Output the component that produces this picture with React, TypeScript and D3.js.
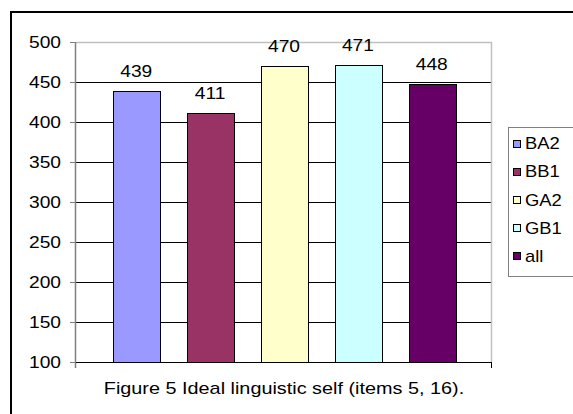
import React from "react";
import * as d3 from "d3";

const categories = ["BA2", "BB1", "GA2", "GB1", "all"];
const values = [439, 411, 470, 471, 448];
const colors = ["#9999FF", "#993366", "#FFFFCC", "#CCFFFF", "#660066"];
const yTicks = [100, 150, 200, 250, 300, 350, 400, 450, 500];
const caption = "Figure 5 Ideal linguistic self (items 5, 16).";

const W = 573;
const H = 414;
const FONT = "'Liberation Sans', Arial, sans-serif";
const FS = 16;

function T({ x, y, anchor, sx = 1.2, children }: { x: number; y: number; anchor: string; sx?: number; children: any }) {
  return (
    <text
      transform={`translate(${x},${y}) scale(${sx},1)`}
      textAnchor={anchor}
      fontFamily={FONT}
      fontSize={FS}
      fill="#000"
    >
      {children}
    </text>
  );
}

export default function App() {
  const plot = { left: 76, right: 492, top: 42, bottom: 362 };
  const y = d3.scaleLinear().domain([100, 500]).range([plot.bottom, plot.top]);
  const x = d3
    .scaleBand<string>()
    .domain(categories)
    .range([plot.left, plot.right])
    .paddingInner(0.37)
    .paddingOuter(0.5);

  const legend = { x: 508.5, y: 127.5, w: 80, h: 149, row: 28.1, first: 143.5 };

  return (
    <svg
      width={W}
      height={H}
      style={{ position: "absolute", left: 0, top: 0, background: "#fff" }}
    >
      <rect x={0} y={0} width={W} height={H} fill="#fff" />
      {/* outer chart border */}
      <rect x={11} y={12} width={W + 20} height={H + 20} fill="none" stroke="#000" strokeWidth={2} />

      {/* gridlines */}
      {yTicks.map((t) =>
        t === 100 || t === 500 ? null : (
          <line key={t} x1={plot.left} x2={plot.right} y1={Math.round(y(t)) + 0.5} y2={Math.round(y(t)) + 0.5} stroke="#000" strokeWidth={1} />
        )
      )}
      {/* plot area border top/right */}
      <line x1={plot.left} x2={plot.right} y1={Math.round(y(500)) + 0.5} y2={Math.round(y(500)) + 0.5} stroke="#c0c0c0" strokeWidth={1.5} />
      <line x1={plot.right - 0.5} x2={plot.right - 0.5} y1={y(500)} y2={y(100)} stroke="#c0c0c0" strokeWidth={1.5} />

      {/* bars */}
      {categories.map((c, i) => (
        <rect
          key={c}
          x={Math.round(x(c)!) + 0.5}
          y={Math.round(y(values[i])) + 0.5}
          width={Math.round(x.bandwidth())}
          height={Math.round(y(100)) - Math.round(y(values[i]))}
          fill={colors[i]}
          stroke="#000"
          strokeWidth={1}
        />
      ))}

      {/* data labels */}
      {categories.map((c, i) => (
        <T key={c} x={x(c)! + x.bandwidth() / 2} y={y(values[i]) - 14} anchor="middle">
          {values[i]}
        </T>
      ))}

      {/* y axis */}
      <line x1={plot.left - 0.5} x2={plot.left - 0.5} y1={y(500)} y2={y(100) + 6} stroke="#808080" strokeWidth={1.5} />
      {yTicks.map((t) => (
        <g key={t}>
          <line x1={plot.left - 6} x2={plot.left} y1={Math.round(y(t)) + 0.5} y2={Math.round(y(t)) + 0.5} stroke="#808080" strokeWidth={1} />
          <T x={61} y={y(t) + 5.8} anchor="end">
            {t}
          </T>
        </g>
      ))}

      {/* x axis */}
      <line x1={plot.left} x2={plot.right} y1={Math.round(y(100)) + 0.5} y2={Math.round(y(100)) + 0.5} stroke="#000" strokeWidth={1} />
      <line x1={plot.right - 0.5} x2={plot.right - 0.5} y1={y(100)} y2={y(100) + 6} stroke="#000" strokeWidth={1} />

      {/* caption */}
      <T x={(plot.left + plot.right) / 2} y={394} anchor="middle" sx={1.24}>
        {caption}
      </T>

      {/* legend */}
      <rect x={legend.x} y={legend.y} width={legend.w} height={legend.h} fill="#fff" stroke="#808080" strokeWidth={1} />
      {categories.map((c, i) => {
        const cy = legend.first + i * legend.row;
        return (
          <g key={c}>
            <rect x={513.5} y={Math.round(cy - 3.5) + 0.5} width={7} height={7} fill={colors[i]} stroke="#000" strokeWidth={1} />
            <T x={525} y={cy + 5.8} anchor="start" sx={1.15}>
              {c}
            </T>
          </g>
        );
      })}
    </svg>
  );
}
